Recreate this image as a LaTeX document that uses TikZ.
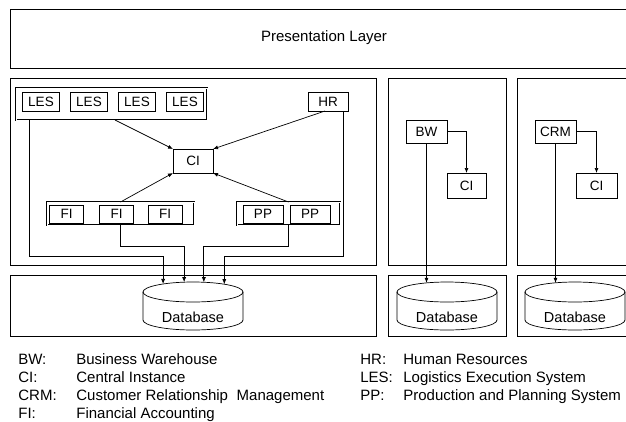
\documentclass[tikz,border=0pt]{standalone}
\usepackage{fontspec}
\setmainfont{Liberation Sans}
\usetikzlibrary{arrows.meta,shapes.geometric}

\begin{document}
\begin{tikzpicture}[x=1pt,y=-1pt,line width=0.7pt,
  every node/.style={font=\fontsize{13.5}{15}\selectfont},
  sys/.style={draw,inner sep=0pt,outer sep=0pt,minimum width=#1,minimum height=19pt},
  sys/.default=37pt,
  grp/.style={draw,double,double distance=1pt,line width=0.6pt,inner sep=0pt,outer sep=0pt},
  drumtop/.style={ellipse,draw,inner sep=0pt,outer sep=0pt,minimum width=100pt,minimum height=20pt},
  legendtxt/.style={anchor=base west,inner sep=0pt,font=\fontsize{15}{17}\selectfont},
  >={Latex[length=5pt,width=4pt]}]
\useasboundingbox (0,0) rectangle (626,421);
\clip (0,0) rectangle (626,421);

% tiers
\draw (10,9) rectangle (640,68);
\node[font=\fontsize{15}{17}\selectfont] (pres) at (324,38) {Presentation Layer};
\draw (10,78.5) rectangle (376,265.5) (388,78.5) rectangle (506,265.5) (517,78.5) rectangle (640,265.5);
\draw (10,275) rectangle (376,336) (388,275) rectangle (506,336) (517,275) rectangle (640,336);

% left system with its central instance
\node[grp,minimum width=191pt,minimum height=32pt] (lesg) at (111.5,104) {};
\foreach \x [count=\i] in {41,89,137,185} \node[sys] (les\i) at (\x,101.5) {LES};
\node[sys=40pt] (hr) at (328,101.5) {HR};
\node[sys=40pt,minimum height=24pt] (ci1) at (193,161) {CI};
\node[grp,minimum width=147pt,minimum height=23pt] (fig) at (120.5,213.5) {};
\foreach \x [count=\i] in {66.5,116.5,165} \node[sys=34pt,minimum height=18pt] (fi\i) at (\x,214) {FI};
\node[grp,minimum width=103pt,minimum height=23pt] (ppg) at (288.5,213.5) {};
\foreach \x [count=\i] in {263,310} \node[sys=40pt,minimum height=18pt] (pp\i) at (\x,214) {PP};

\draw[->] ([xshift=3.5pt]lesg.south) -- (ci1.north west);
\draw[->] ([xshift=-3pt]hr.south) -- (ci1.north east);
\draw[->] (fig.north) -- (ci1.south west);
\draw[->] (ppg.north) -- (ci1.south east);

% BW and CRM
\node[sys=41pt,minimum height=23pt] (bw) at (426.5,131.5) {BW};
\node[sys=39pt,minimum height=25pt] (ci2) at (466.5,185.5) {CI};
\node[sys=41pt,minimum height=23pt] (crm) at (555.5,131.5) {CRM};
\node[sys=41pt,minimum height=25pt] (ci3) at (596.5,185.5) {CI};
\draw[->] (bw.east) -| (ci2.north);
\draw[->] (crm.east) -| (ci3.north);

% databases
\foreach \n/\cx in {1/193,2/447,3/575} {
  \node[drumtop] (top\n) at (\cx,292) {};
  \draw (top\n.west) -- ++(0,28) arc[start angle=180,end angle=0,x radius=50,y radius=10] -- (top\n.east);
  \node[font=\fontsize{14.5}{16}\selectfont] (db\n) at (\cx,317) {Database};
}

% feeds into the databases
\draw[->] ([xshift=13pt]lesg.south west) |- ([yshift=28pt]top1.165) -- (top1.165);
\draw[->] (fig.south) |- ([yshift=36pt]top1.132) -- (top1.132);
\draw[->] (ppg.south) |- ([yshift=36pt]top1.42) -- (top1.42);
\draw[->] ([xshift=-5pt]hr.south east) |- ([yshift=28pt]top1.14) -- (top1.14);
\draw[->] (bw.south) -- (bw.south |- top2.155);
\draw[->] (crm.south) -- (crm.south |- top3.155);

% legend
\foreach \a/\t [count=\i] in {BW/Business Warehouse,CI/Central Instance,
    CRM/Customer Relationship\hspace{.3em} Management,FI/Financial Accounting} {
  \node[legendtxt] (ab\i) at (18,346+18*\i) {\a:};
  \node[legendtxt] (tx\i) at (76,346+18*\i) {\t};
}
\foreach \a/\t [count=\i] in {HR/Human Resources,LES/Logistics Execution System,
    PP/Production and Planning System} {
  \node[legendtxt] (rab\i) at (360,346+18*\i) {\a:};
  \node[legendtxt] (rtx\i) at (403,346+18*\i) {\t};
}
\end{tikzpicture}
\end{document}
